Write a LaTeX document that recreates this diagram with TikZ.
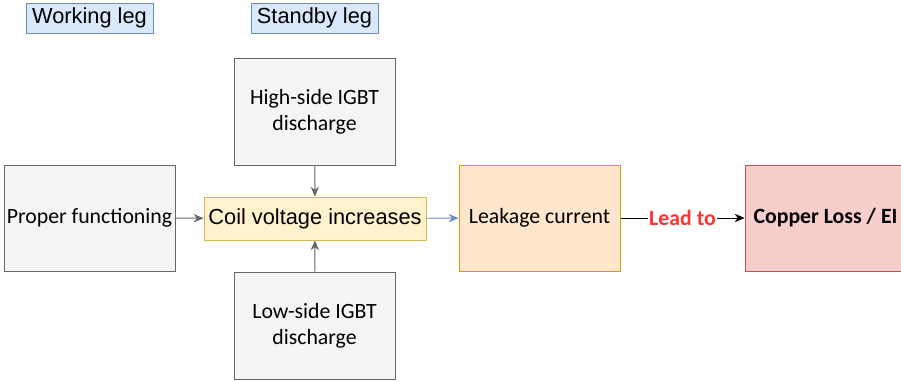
\documentclass[tikz,border=0pt]{standalone}
\usepackage{fontspec}
\setmainfont{Carlito}
\newfontfamily\arialfont{Liberation Sans}
\usetikzlibrary{arrows.meta}
\definecolor{legfill}{HTML}{DAE8FC}
\definecolor{legdraw}{HTML}{6C8EBF}
\definecolor{greyfill}{HTML}{F5F5F5}
\definecolor{greydraw}{HTML}{666666}
\definecolor{coilfill}{HTML}{FFF2CC}
\definecolor{coildraw}{HTML}{D6B656}
\definecolor{leakfill}{HTML}{FFE6CC}
\definecolor{leakdraw}{HTML}{D79B00}
\definecolor{lossfill}{HTML}{F8CECC}
\definecolor{lossdraw}{HTML}{B85450}
\definecolor{leadred}{HTML}{FF3333}

\begin{document}
\begin{tikzpicture}[every node/.style={draw, rectangle, inner sep=0pt, line width=0.7pt, font=\fontsize{15.5}{18.5}\selectfont, align=center},
legbox/.style={fill=legfill, draw=legdraw, minimum width=3.175cm, minimum height=0.75cm, font=\arialfont\fontsize{15.5}{18.5}\selectfont},
greybox/.style={fill=greyfill, draw=greydraw, minimum width=4.025cm, minimum height=2.675cm},
link/.style={line width=0.7pt, -{Stealth[length=7pt,width=6pt]}}]
\useasboundingbox (0,0) rectangle (22.525,9.5);
\clip (0,0) rectangle (22.525,9.5);
% legs
\node[legbox] (workleg) at (2.2375,9.05) {Working leg};
\node[legbox] (standleg) at (7.8625,9.05) {Standby leg};

% boxes
\node[greybox] (highside) at (7.8625,6.7125) {High-side IGBT\\discharge};
\node[greybox, minimum width=4.275cm, minimum height=2.65cm] (proper) at (2.2375,4.05) {Proper functioning};
\node[fill=coilfill, draw=coildraw, minimum width=5.55cm, minimum height=1.075cm, font=\arialfont\fontsize{15.5}{18.5}\selectfont] (coil) at (7.875,4.0375) {Coil voltage increases};
\node[greybox] (lowside) at (7.8625,1.3625) {Low-side IGBT\\discharge};
\node[fill=leakfill, draw=leakdraw, minimum width=4.025cm, minimum height=2.65cm] (leak) at (13.4875,4.05) {Leakage current};
\node[fill=lossfill, draw=lossdraw, minimum width=4.025cm, minimum height=2.65cm, font=\bfseries\fontsize{15.5}{18.5}\selectfont] (loss) at (20.6375,4.05) {Copper Loss / EI};

\draw[link, greydraw] (highside) -- (coil);
\draw[link, greydraw] (lowside) -- (coil);
\draw[link, greydraw] (proper) -- (coil);
\draw[link, legdraw] (coil) -- (leak);
\draw[link, black] (leak) -- node[midway, draw=none, fill=white, inner sep=1pt, text=leadred, font=\bfseries\fontsize{15.5}{18.5}\selectfont] {Lead to} (loss);
\end{tikzpicture}
\end{document}
